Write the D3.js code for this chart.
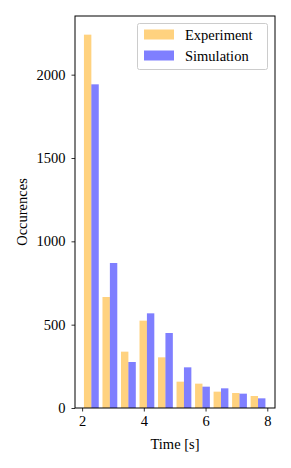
<!DOCTYPE html>
<html>
<head>
<meta charset="utf-8">
<script src="https://cdn.jsdelivr.net/npm/d3@7"></script>
<style>
  body { margin: 0; background: white; }
  svg text { font-family: "Liberation Serif", "DejaVu Serif", serif; }
</style>
</head>
<body>
<svg id="chart"></svg>
<script>
// data
const binEdges = [2.0, 2.6, 3.2, 3.8, 4.4, 5.0, 5.6, 6.2, 6.8, 7.4, 8.0];
const experiment = [2240, 666, 338, 524, 304, 158, 146, 98, 90, 72];
const simulation = [1942, 870, 276, 568, 450, 244, 128, 118, 86, 58];
const xTicks = [2, 4, 6, 8];
const yTicks = [0, 500, 1000, 1500, 2000];

const width = 291;
const height = 468;
const plot = { left: 75, right: 275, top: 16, bottom: 408 };

const svg = d3.select("svg#chart")
  .attr("width", width)
  .attr("height", height);

const xScale = d3.scaleLinear().domain([1.77, 8.25]).range([plot.left, plot.right]);
const yScale = d3.scaleLinear().domain([0, 2352]).range([plot.bottom, plot.top]);

const series = [
  { name: "Experiment", values: experiment, color: "rgba(255,165,0,0.5)", off: 0.1 },
  { name: "Simulation", values: simulation, color: "rgba(0,0,255,0.5)", off: 0.5 }
];

// bars
series.forEach(function(s) {
  svg.append("g")
    .selectAll("rect")
    .data(s.values)
    .enter()
    .append("rect")
    .attr("x", (d, i) => xScale(binEdges[i] + s.off * (binEdges[i + 1] - binEdges[i])))
    .attr("width", (d, i) => xScale(binEdges[i] + (s.off + 0.4) * (binEdges[i + 1] - binEdges[i])) - xScale(binEdges[i] + s.off * (binEdges[i + 1] - binEdges[i])))
    .attr("y", d => yScale(d))
    .attr("height", d => yScale(0) - yScale(d))
    .style("fill", s.color);
});

// axes
const xAxis = d3.axisBottom(xScale).tickValues(xTicks).tickFormat(d3.format("d")).tickSize(3.5).tickPadding(4);
const yAxis = d3.axisLeft(yScale).tickValues(yTicks).tickFormat(d3.format("d")).tickSize(3.5).tickPadding(6);

const gx = svg.append("g")
  .attr("transform", "translate(0," + plot.bottom + ")")
  .call(xAxis);
const gy = svg.append("g")
  .attr("transform", "translate(" + plot.left + ",0)")
  .call(yAxis);

[gx, gy].forEach(function(g) {
  g.select(".domain").remove();
  g.selectAll("line").attr("stroke", "black").attr("stroke-width", 0.8);
  g.selectAll("text").attr("fill", "black").style("font-size", "14.5px");
});

// frame
svg.append("rect")
  .attr("x", plot.left)
  .attr("y", plot.top)
  .attr("width", plot.right - plot.left)
  .attr("height", plot.bottom - plot.top)
  .style("fill", "none")
  .style("stroke", "black")
  .style("stroke-width", 1);

// labels
svg.append("text")
  .attr("x", (plot.left + plot.right) / 2)
  .attr("y", 449)
  .attr("text-anchor", "middle")
  .style("font-size", "14.5px")
  .text("Time [s]");

svg.append("text")
  .attr("transform", "translate(27," + (plot.top + plot.bottom) / 2 + ") rotate(-90)")
  .attr("text-anchor", "middle")
  .style("font-size", "14.5px")
  .text("Occurences");

// legend
const legend = svg.append("g");
legend.append("rect")
  .attr("x", 137.5)
  .attr("y", 23.5)
  .attr("width", 130)
  .attr("height", 46)
  .attr("rx", 2)
  .style("fill", "rgba(255,255,255,0.8)")
  .style("stroke", "#cccccc")
  .style("stroke-width", 1);

series.forEach(function(s, i) {
  legend.append("rect")
    .attr("x", 144)
    .attr("y", 29.5 + i * 21)
    .attr("width", 30)
    .attr("height", 10)
    .style("fill", s.color);
  legend.append("text")
    .attr("x", 185)
    .attr("y", 39.5 + i * 21)
    .style("font-size", "14.5px")
    .text(s.name);
});
</script>
</body>
</html>
